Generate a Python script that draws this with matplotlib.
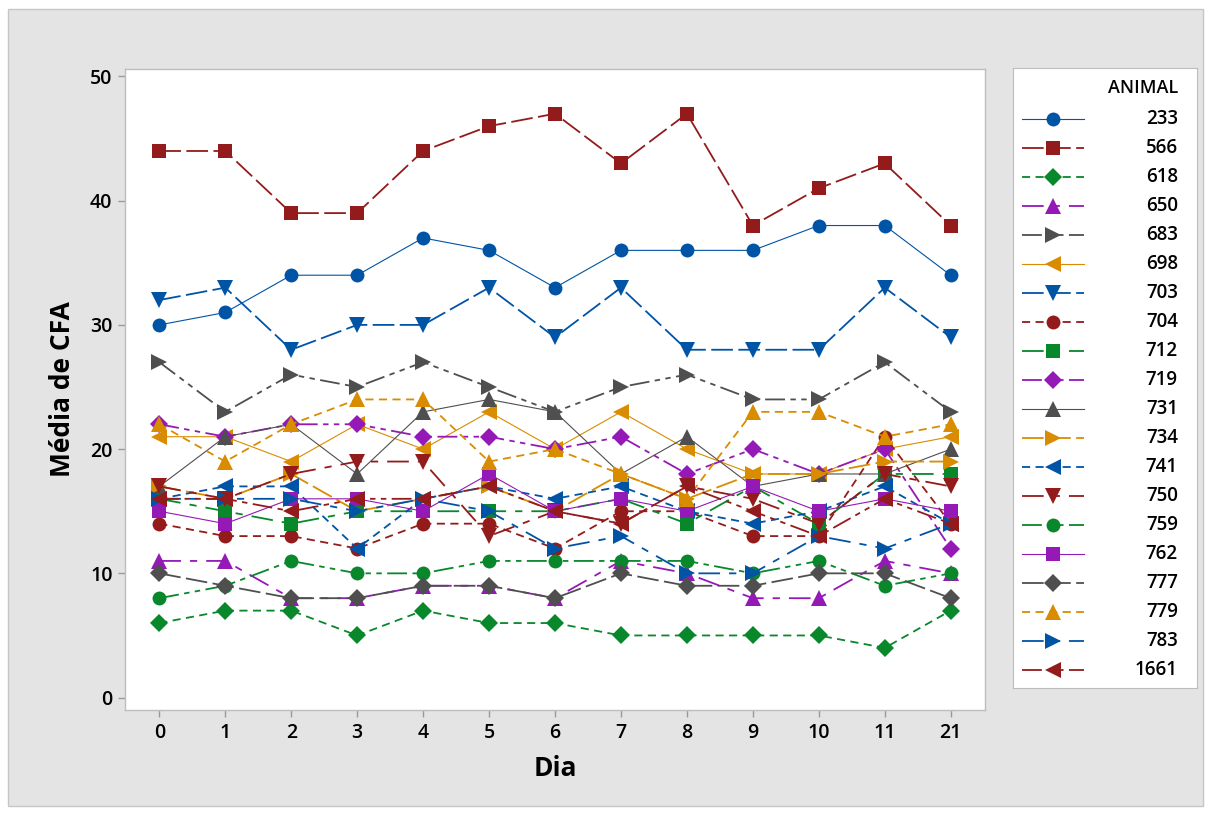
import matplotlib
matplotlib.use('Agg')
from matplotlib import pyplot as plt
from matplotlib.patches import Rectangle

# dias (eixo categórico) e médias de CFA por animal
dias = ['0', '1', '2', '3', '4', '5', '6', '7', '8', '9', '10', '11', '21']

a233 = [30, 31, 34, 34, 37, 36, 33, 36, 36, 36, 38, 38, 34]
a566 = [44, 44, 39, 39, 44, 46, 47, 43, 47, 38, 41, 43, 38]
a618 = [6, 7, 7, 5, 7, 6, 6, 5, 5, 5, 5, 4, 7]
a650 = [11, 11, 8, 8, 9, 9, 8, 11, 10, 8, 8, 11, 10]
a683 = [27, 23, 26, 25, 27, 25, 23, 25, 26, 24, 24, 27, 23]
a698 = [21, 21, 19, 22, 20, 23, 20, 23, 20, 18, 18, 20, 21]
a703 = [32, 33, 28, 30, 30, 33, 29, 33, 28, 28, 28, 33, 29]
a704 = [14, 13, 13, 12, 14, 14, 12, 15, 15, 13, 13, 21, 14]
a712 = [16, 15, 14, 15, 15, 15, 15, 16, 14, 17, 14, 18, 18]
a719 = [22, 21, 22, 22, 21, 21, 20, 21, 18, 20, 18, 20, 12]
a731 = [17, 21, 22, 18, 23, 24, 23, 18, 21, 17, 18, 18, 20]
a734 = [17, 16, 18, 15, 16, 17, 15, 18, 16, 18, 18, 19, 19]
a741 = [16, 17, 17, 12, 16, 17, 16, 17, 15, 14, 15, 17, 14]
a750 = [17, 16, 18, 19, 19, 13, 15, 14, 17, 16, 14, 18, 17]
a759 = [8, 9, 11, 10, 10, 11, 11, 11, 11, 10, 11, 9, 10]
a762 = [15, 14, 16, 16, 15, 18, 15, 16, 15, 17, 15, 16, 15]
a777 = [10, 9, 8, 8, 9, 9, 8, 10, 9, 9, 10, 10, 8]
a779 = [22, 19, 22, 24, 24, 19, 20, 18, 16, 23, 23, 21, 22]
a783 = [16, 16, 16, 15, 16, 15, 12, 13, 10, 10, 13, 12, 14]
a1661 = [16, 16, 15, 16, 16, 17, 15, 14, 17, 15, 13, 16, 14]

animais = ['233', '566', '618', '650', '683', '698', '703', '704', '712', '719',
           '731', '734', '741', '750', '759', '762', '777', '779', '783', '1661']
valores = [a233, a566, a618, a650, a683, a698, a703, a704, a712, a719,
           a731, a734, a741, a750, a759, a762, a777, a779, a783, a1661]

blue = '#0054A6'
red = '#931B1B'
green = '#08872B'
purple = '#9419B7'
gray = '#4F4F4F'
orange = '#D98C00'

solid = '-'
longdash = (0, (12, 3))
dash = (0, (4.5, 3))
longshort = (0, (12, 5, 4, 5))
dashdd = (0, (11, 3, 3, 3, 3, 3))

# (cor, marcador, estilo, espessura)
estilos = [
    (blue, 'o', solid, 0.8),
    (red, 's', longdash, 1.3),
    (green, 'D', dash, 1.3),
    (purple, '^', longshort, 1.3),
    (gray, '>', dashdd, 1.3),
    (orange, '<', solid, 0.8),
    (blue, 'v', longdash, 1.3),
    (red, 'o', dash, 1.3),
    (green, 's', longshort, 1.3),
    (purple, 'D', dashdd, 1.3),
    (gray, '^', solid, 0.8),
    (orange, '>', longdash, 1.3),
    (blue, '<', dash, 1.3),
    (red, 'v', longshort, 1.3),
    (green, 'o', dashdd, 1.3),
    (purple, 's', solid, 0.8),
    (gray, 'D', longdash, 1.3),
    (orange, '^', dash, 1.3),
    (blue, '>', longshort, 1.3),
    (red, '<', dashdd, 1.3),
]
msize = {'o': 10, 's': 9.5, 'D': 9, '^': 11, 'v': 11, '<': 11, '>': 11}

plt.rcParams['font.family'] = ['Open Sans', 'DejaVu Sans']

W, H = 1211, 814
fig = plt.figure(figsize=(W / 100, H / 100), dpi=100)
fig.patch.set_facecolor('white')
fig.patches.append(Rectangle((8 / W, 1 - 806 / H), 1195 / W, 797 / H, transform=fig.transFigure,
                             facecolor='#E4E4E4', edgecolor='#C6C6C6', lw=1, zorder=-5))

ax = fig.add_axes([125 / W, 1 - 710 / H, 860 / W, 641 / H])
ax.set_zorder(2)
ax.set_facecolor('white')
x = list(range(len(dias)))
for vals, (c, m, ls, lw) in zip(valores, estilos):
    ax.plot(x, vals, color=c, marker=m, markersize=msize[m], linestyle=ls, linewidth=lw,
            markeredgewidth=0)

ax.set_xlim(-0.52, 12.52)
ax.set_ylim(-1, 50.6)
ax.set_xticks(x)
ax.set_xticklabels(dias)
ax.set_yticks([0, 10, 20, 30, 40, 50])
for s in ax.spines.values():
    s.set_color('#BDBDBD')
    s.set_linewidth(1)
ax.tick_params(color='#9A9A9A', length=5, width=1, labelsize=14, pad=4)
for t in ax.get_xticklabels() + ax.get_yticklabels():
    t.set_fontweight('semibold')
ax.set_xlabel('Dia', fontsize=19, fontweight='bold', labelpad=9)
ax.set_ylabel('Média de CFA', fontsize=19, fontweight='bold', labelpad=10)

# legenda no estilo Minitab
lg = fig.add_axes([1013 / W, 1 - 688 / H, 184 / W, 620 / H])
lg.set_zorder(2)
lg.set_facecolor('white')
lg.set_xlim(1013, 1197)
lg.set_ylim(688, 68)
lg.set_xticks([])
lg.set_yticks([])
for s in lg.spines.values():
    s.set_color('#BDBDBD')
lg.text(1178, 88, 'ANIMAL', ha='right', va='center', fontsize=13, fontweight='semibold')
for i, (nome, (c, m, ls, lw)) in enumerate(zip(animais, estilos)):
    yy = 119 + i * 29
    lg.plot([1022, 1053, 1084], [yy, yy, yy], color=c, marker=m, markevery=[1],
            markersize=msize[m], linestyle=ls, linewidth=lw, markeredgewidth=0)
    lg.text(1178, yy, nome, ha='right', va='center', fontsize=13.5, fontweight='semibold')

plt.savefig('out.png', dpi=100)
plt.close()
